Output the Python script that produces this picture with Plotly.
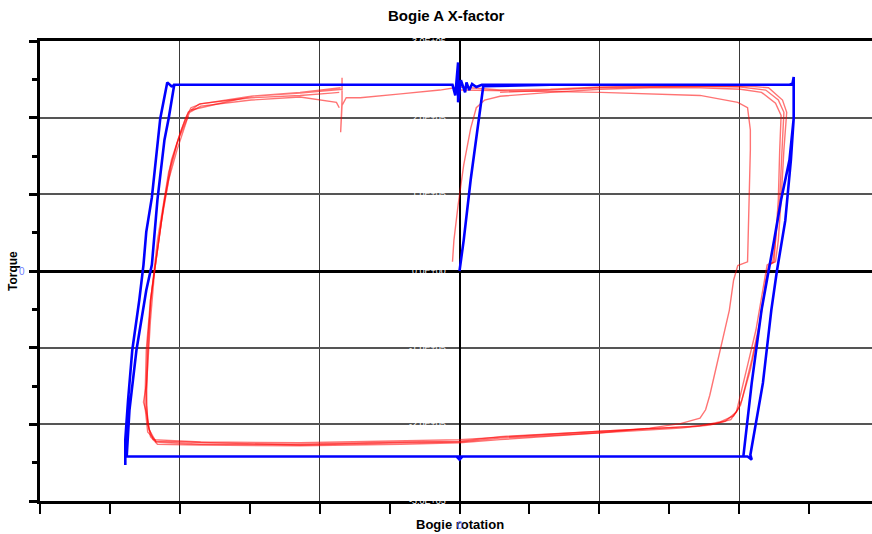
import plotly.graph_objects as go

# ---- data (rotation in grid units, torque in 1e5 units) ----
blue_rot = [0, 0.03, 0.08, 0.13, 0.17, 0.65, 1.36, 2.08, 2.38, 2.39, 2.39, 2.39, 2.37, 2.33, 2.27, 2.23,
            2.17, 2.09, 2.08, 2.09, 2.06, 1.72, 1.01, 0.29, 0.02, 0, -0.02, -0.42, -1.14, -1.85, -2.39,
            -2.39, -2.39, -2.37, -2.34, -2.29, -2.26, -2.24, -2.20, -2.14, -2.09, -2.06, -2.03, -1.49,
            -0.78, -0.10, -0.05, -0.03, -0.01, -0.01, 0.01, 0.04, 0.05, 0.07, 0.09, 0.12, 0.16, 1.01,
            1.72, 2.36, 2.39, 2.39, 2.36, 2.30, 2.25, 2.21, 2.16, 2.09, 2.04, 2.03, 1.01, 0, -1.14,
            -2.38, -2.36, -2.31, -2.24, -2.20, -2.16, -2.11, -2.08, -2.04, -1.14, -0.14]
blue_torque = [0, 0.40, 1.19, 1.84, 2.41, 2.43, 2.43, 2.43, 2.43, 2.53, 2.29, 1.99, 1.45, 0.66, 0, -0.51,
               -1.46, -2.33, -2.40, -2.46, -2.42, -2.42, -2.42, -2.42, -2.42, -2.46, -2.42, -2.42, -2.42,
               -2.42, -2.42, -2.53, -2.20, -1.68, -1.03, -0.38, 0.08, 0.51, 0.96, 1.99, 2.46, 2.41, 2.43,
               2.43, 2.43, 2.43, 2.43, 2.29, 2.72, 2.20, 2.49, 2.33, 2.46, 2.36, 2.44, 2.40, 2.43, 2.43,
               2.43, 2.43, 2.45, 1.99, 1.45, 0.93, 0.40, 0, -0.51, -1.46, -2.33, -2.42, -2.42, -2.42,
               -2.42, -2.42, -1.81, -1.03, -0.25, 0.08, 0.93, 1.71, 1.99, 2.43, 2.43, 2.43]

red1_rot = [-0.05, -0.04, -0.01, 0.03, 0.08, 0.12, 0.18, 0.29, 0.65, 1.01, 1.36, 1.72, 2.01, 2.16, 2.26,
            2.30, 2.29, 2.28, 2.26, 2.24, 2.20, 2.17, 2.12, 2.06, 2.01, 1.98, 1.90, 1.79, 1.58, 1.01,
            0.29, 0, -0.42, -1.14, -1.85, -2.16, -2.21, -2.24, -2.26, -2.24, -2.23, -2.20, -2.16, -2.11,
            -2.08, -2.02, -1.97, -1.93, -1.85, -1.49, -1.14, -0.88, -0.86]
red1_torque = [0.12, 0.40, 0.86, 1.38, 1.86, 2.13, 2.23, 2.28, 2.33, 2.37, 2.39, 2.39, 2.37, 2.33, 2.19,
               2.03, 1.58, 0.93, 0.40, 0.12, 0.08, -0.25, -0.77, -1.23, -1.62, -1.84, -1.96, -2.01,
               -2.05, -2.11, -2.20, -2.24, -2.26, -2.28, -2.27, -2.26, -2.16, -1.84, -1.71, -1.49, -0.90,
               -0.25, 0.40, 0.93, 1.29, 1.67, 1.90, 2.07, 2.15, 2.23, 2.27, 2.20, 2.13]

red2_rot = [-1.92, -1.49, -1.14, -0.84, -0.84, -0.84, -0.85, -0.84, -0.81, -0.71, -0.42, -0.14, 0, 0.29,
            0.65, 1.01, 1.36, 1.72, 2.01, 2.19, 2.28, 2.32, 2.31, 2.29, 2.26, 2.25, 2.21, 2.19, 2.14,
            2.08, 2.02, 1.99, 1.94, 1.83, 1.65, 1.01, 0.29, 0, -0.42, -1.14, -1.85, -2.17, -2.22, -2.24,
            -2.23, -2.21, -2.17, -2.12, -2.06, -2.01, -1.96, -1.92, -1.85, -1.49, -1.14, -0.85]
red2_torque = [2.10, 2.28, 2.32, 2.37, 2.52, 2.23, 1.81, 2.16, 2.26, 2.26, 2.31, 2.36, 2.40, 2.36, 2.37,
               2.40, 2.41, 2.41, 2.40, 2.36, 2.23, 2.07, 1.71, 0.93, 0.40, 0.12, 0.07, -0.18, -0.77,
               -1.29, -1.68, -1.81, -1.94, -1.99, -2.03, -2.09, -2.16, -2.22, -2.23, -2.26, -2.26, -2.23,
               -2.07, -1.75, -1.16, -0.38, 0.14, 0.80, 1.38, 1.73, 1.99, 2.13, 2.18, 2.28, 2.33, 2.39]

red3_rot = [0, 1.01, 1.72, 1.99, 2.06, 2.08, 2.08, 2.07, 2.06, 1.99, 1.96, 1.93, 1.89, 1.84, 1.79, 1.76,
            1.72, 1.58, 1.36, 1.01, 0.29, 0, -0.42, -1.14, -1.85, -2.17, -2.23, -2.25, -2.24, -2.21,
            -2.16, -2.11, -2.06, -1.99, -1.94, -1.86, -1.49, -1.14, -0.92, -0.86]
red3_torque = [2.36, 2.33, 2.29, 2.20, 2.13, 1.84, 1.58, 0.93, 0.12, 0.07, -0.12, -0.51, -0.83, -1.23,
               -1.62, -1.81, -1.92, -1.99, -2.05, -2.11, -2.18, -2.23, -2.24, -2.27, -2.24, -2.22,
               -2.10, -1.75, -1.03, -0.38, 0.27, 0.93, 1.45, 1.84, 2.07, 2.18, 2.26, 2.29, 2.32, 2.33]

red4_rot = [0.29, 1.01, 1.72, 2.08, 2.21, 2.31, 2.34, 2.32, 2.30, 2.28, 2.26, 2.22, 2.19, 2.15, 2.09,
            2.04, 2.01, 1.96, 1.86, 1.72, 1.01, 0, -1.14, -1.85, -2.19, -2.23, -2.24, -2.21, -2.18,
            -2.13, -2.08, -2.02, -1.96, -1.94]
red4_torque = [2.33, 2.39, 2.41, 2.41, 2.39, 2.23, 2.07, 1.58, 0.93, 0.40, 0.12, 0.09, -0.12, -0.64,
               -1.16, -1.55, -1.75, -1.89, -1.97, -2.02, -2.09, -2.20, -2.24, -2.23, -2.20, -2.01,
               -1.55, -0.64, 0.01, 0.66, 1.19, 1.58, 1.90, 2.02]

torque_ticks = [3, 2, 1, 0, -1, -2, -3]
torque_labels = ["3.0E+05", "2.0E+05", "1.0E+05", "0.0E+00", "-1.0E+05", "-2.0E+05", "-3.0E+05"]

FONT = "Arial, Liberation Sans, sans-serif"

fig = go.Figure()
red_sets = [(red1_rot, red1_torque), (red2_rot, red2_torque), (red3_rot, red3_torque), (red4_rot, red4_torque)]
for rx, ry in red_sets:
    fig.add_trace(go.Scatter(x=rx, y=ry, mode="lines", line=dict(color="rgba(255,0,0,0.55)", width=1.4),
                             hoverinfo="skip", showlegend=False))
fig.add_trace(go.Scatter(x=blue_rot, y=blue_torque, mode="lines", line=dict(color="#0000ff", width=2.6),
                         showlegend=False))

fig.update_layout(
    width=872, height=534,
    margin=dict(l=40, r=0, t=41, b=33),
    paper_bgcolor="white", plot_bgcolor="white",
    font=dict(family=FONT, color="black"),
    xaxis=dict(range=[-3, 2.95], tick0=0, dtick=1, showgrid=True, gridcolor="#3a3a3a", gridwidth=1,
               zeroline=True, zerolinecolor="black", zerolinewidth=2,
               showline=True, linecolor="black", linewidth=3, mirror=True,
               ticks="outside", ticklen=10, tickwidth=2, tickcolor="black",
               minor=dict(dtick=0.5, ticks="outside", ticklen=10, tickwidth=2, tickcolor="black", showgrid=False),
               showticklabels=False),
    yaxis=dict(range=[-3, 3], tick0=0, dtick=1, showgrid=True, gridcolor="#555555", gridwidth=2,
               zeroline=True, zerolinecolor="black", zerolinewidth=3,
               showline=True, linecolor="black", linewidth=3,
               ticks="outside", ticklen=8, tickwidth=3, tickcolor="black",
               minor=dict(dtick=0.5, ticks="outside", ticklen=5, tickwidth=3, tickcolor="black", showgrid=False),
               showticklabels=False),
    xaxis2=dict(overlaying="x", range=[-3, 2.95], tick0=0, dtick=1, showgrid=False, zeroline=False,
                showline=False, ticks="inside", ticklen=5, tickwidth=2, tickcolor="black",
                minor=dict(dtick=0.5, ticks="inside", ticklen=5, tickwidth=2, tickcolor="black", showgrid=False),
                showticklabels=False, side="bottom"),
    yaxis2=dict(overlaying="y", range=[-3, 3], tick0=0, dtick=1, showgrid=False, zeroline=False,
                showline=False, ticks="inside", ticklen=8, tickwidth=3, tickcolor="black",
                minor=dict(dtick=0.5, ticks="inside", ticklen=5, tickwidth=3, tickcolor="black", showgrid=False),
                showticklabels=False, side="left"),
)

ann = [
    dict(text="<b>Bogie A X-factor</b>", xref="paper", yref="paper", x=0.489, y=1, yshift=26,
         xanchor="center", yanchor="middle",
         showarrow=False, font=dict(size=15, family=FONT, color="black")),
    dict(text="<b>Torque</b>", xref="paper", yref="paper", x=0, y=0.5, xshift=-27, textangle=-90,
         xanchor="center", yanchor="middle",
         showarrow=False, font=dict(size=12, family=FONT, color="black")),
    dict(text="<b>Bogie rotation</b>", xref="x", yref="paper", x=0, y=0, yshift=-23,
         xanchor="center", yanchor="middle",
         showarrow=False, font=dict(size=13, family=FONT, color="black")),
    dict(text="0", xref="paper", yref="y", x=0, y=0, xshift=-18, xanchor="center", yanchor="middle",
         showarrow=False, font=dict(size=10, family=FONT, color="#6f7fff")),
    dict(text="0", xref="x", yref="paper", x=0, y=0, yshift=-24, xanchor="center", yanchor="middle",
         showarrow=False, font=dict(size=10, family=FONT, color="#6f7fff")),
]
for tv, tl in zip(torque_ticks, torque_labels):
    ann.append(dict(text=tl, xref="x", yref="y", x=0, y=tv, xanchor="right", xshift=-12,
                    showarrow=False, font=dict(size=9, family=FONT, color="white")))
fig.update_layout(annotations=ann)

fig.write_html("out.html", config={"displayModeBar": False},
               post_script="document.body.style.margin='0';")
